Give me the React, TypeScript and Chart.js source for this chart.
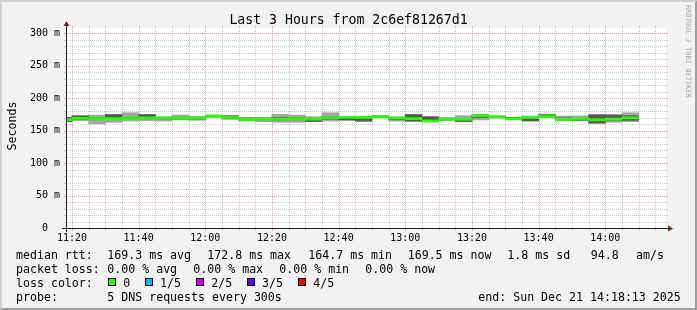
import React, { useEffect, useRef } from "react";
import { Chart, registerables } from "chart.js";

Chart.register(...registerables);

// ---------- data ----------
const chartTitle = "Last 3 Hours from 2c6ef81267d1";
const yAxisTitle = "Seconds";
const watermarkText = "RRDTOOL / TOBI OETIKER";
const rangeStart = "11:18:13";
const rangeEnd = "14:18:13";

const stepEnds = [
  "11:20", "11:25", "11:30", "11:35", "11:40", "11:45", "11:50", "11:55",
  "12:00", "12:05", "12:10", "12:15", "12:20", "12:25", "12:30", "12:35",
  "12:40", "12:45", "12:50", "12:55", "13:00", "13:05", "13:10", "13:15",
  "13:20", "13:25", "13:30", "13:35", "13:40", "13:45", "13:50", "13:55",
  "14:00", "14:05", "14:10",
];
const medianRtt = [
  166.7, 168.8, 168.3, 168.3, 168.3, 169.5, 169.5, 168.8, 169.2, 172.0,
  170.0, 167.2, 167.7, 167.5, 168.2, 167.5, 170.0, 170.3, 170.0, 171.3,
  169.2, 168.3, 164.7, 167.2, 167.3, 172.8, 171.0, 167.9, 170.0, 171.3,
  167.2, 167.8, 166.5, 167.5, 169.5,
];
const smokeOuterLow = [
  163.5, 165.0, 160.2, 162.6, 164.6, 165.2, 164.6, 166.2, 165.6, 170.5,
  167.0, 164.6, 163.6, 162.6, 162.6, 163.6, 164.6, 165.6, 164.0, 169.5,
  164.6, 163.6, 163.2, 165.6, 163.4, 166.2, 169.2, 166.6, 164.6, 169.7,
  165.0, 165.6, 160.8, 162.6, 163.6,
];
const smokeOuterHigh = [
  170.3, 172.8, 173.8, 174.9, 177.4, 174.9, 170.5, 173.8, 171.3, 173.8,
  172.8, 169.7, 170.0, 174.9, 173.8, 171.3, 177.4, 171.3, 171.0, 173.0,
  171.0, 175.0, 171.6, 169.7, 172.8, 174.9, 172.3, 170.3, 172.3, 175.4,
  172.3, 172.3, 174.9, 174.5, 177.4,
];
const smokeInnerLow = [
  163.5, 167.0, 166.8, 167.5, 166.8, 168.0, 167.8, 167.5, 167.5, 171.0,
  168.2, 166.2, 166.5, 166.0, 166.5, 163.8, 167.5, 166.2, 164.5, 170.3,
  166.5, 164.6, 164.2, 166.2, 163.8, 170.0, 169.8, 167.5, 164.8, 170.5,
  166.2, 165.6, 161.5, 165.6, 165.6,
];
const smokeInnerHigh = [
  170.3, 172.5, 169.8, 174.5, 170.0, 174.5, 170.3, 170.3, 170.5, 173.0,
  172.5, 169.5, 169.0, 170.0, 170.0, 168.5, 171.5, 170.5, 170.0, 172.5,
  170.0, 174.5, 171.0, 169.0, 168.5, 173.5, 172.0, 170.0, 169.5, 174.0,
  169.5, 168.5, 174.0, 173.8, 172.8,
];
const xTickLabels = ["11:20", "11:40", "12:00", "12:20", "12:40", "13:00", "13:20", "13:40", "14:00"];
const yTickValues = [0, 50, 100, 150, 200, 250, 300];
const yUnit = "m";

const rttLabel = "median rtt:";
const rttStats = ["169.3 ms avg", "172.8 ms max", "164.7 ms min", "169.5 ms now", "1.8 ms sd", "94.8", "am/s"];
const lossLabel = "packet loss:";
const lossStats = ["0.00 % avg", "0.00 % max", "0.00 % min", "0.00 % now"];
const lossColorLabel = "loss color:";
const lossNames = ["0", "1/5", "2/5", "3/5", "4/5"];
const lossColors = ["#26ff00", "#00b8ff", "#dd00ff", "#5e00ff", "#ff0000"];
const probeLabel = "probe:";
const probeText = "5 DNS requests every 300s";
const endText = "end: Sun Dec 21 14:18:13 2025";

// ---------- layout / style ----------
const W = 697;
const H = 310;
const FONT = '"DejaVu Sans Mono", monospace';
const STEP_MIN = 5;
const Y_MAX = 307.7;
const MEDIAN_HALF = 1.6;
const GRID = "rgba(143,143,143,0.45)";
const MGRID = "rgba(222,79,79,0.5)";
const AXIS = "#1f1f1f";
const ARROW = "#801f1f";

const toMin = (s: string) => {
  const p = s.split(":").map(Number);
  return p[0] * 60 + p[1] + (p[2] || 0) / 60;
};
const xMin = toMin(rangeStart);
const xMax = toMin(rangeEnd);
const stepCenters = stepEnds.map((s) => toMin(s) - STEP_MIN / 2);
const majorMap = new Map(xTickLabels.map((l) => [toMin(l), l]));

const rrdPlugin = {
  id: "rrdlook",
  beforeDraw(chart: any) {
    const { ctx, chartArea: a } = chart;
    ctx.save();
    ctx.fillStyle = "#f2f2f2";
    ctx.fillRect(0, 0, W, H);
    ctx.fillStyle = "#cfcfcf";
    ctx.beginPath();
    ctx.moveTo(0, H); ctx.lineTo(2, H - 2); ctx.lineTo(2, 2); ctx.lineTo(W - 2, 2);
    ctx.lineTo(W, 0); ctx.lineTo(0, 0); ctx.closePath(); ctx.fill();
    ctx.fillStyle = "#9e9e9e";
    ctx.beginPath();
    ctx.moveTo(2, H - 2); ctx.lineTo(W - 2, H - 2); ctx.lineTo(W - 2, 2);
    ctx.lineTo(W, 0); ctx.lineTo(W, H); ctx.lineTo(0, H); ctx.closePath(); ctx.fill();
    ctx.fillStyle = "#ffffff";
    ctx.fillRect(a.left, a.top, a.right - a.left, a.bottom - a.top);
    ctx.restore();
  },
  beforeDatasetsDraw(chart: any) {
    const { ctx, chartArea: a, scales } = chart;
    const xs = scales.x, ys = scales.y;
    const X0 = a.left, X1 = a.right, Y0 = a.bottom, Y1 = a.top;
    const line = (x1: number, y1: number, x2: number, y2: number) => {
      ctx.beginPath(); ctx.moveTo(x1, y1); ctx.lineTo(x2, y2); ctx.stroke();
    };
    ctx.save();
    ctx.lineWidth = 1;
    ys.ticks.forEach((t: any) => {
      const v = t.value;
      if (v <= 0) return;
      const py = Math.round(ys.getPixelForValue(v)) + 0.5;
      const major = yTickValues.includes(v);
      ctx.strokeStyle = major ? MGRID : GRID;
      ctx.setLineDash([]);
      line(X0 - 2, py, X0, py);
      line(X1, py, X1 + 2, py);
      ctx.setLineDash([1, 1]);
      line(X0, py, X1, py);
    });
    xs.ticks.forEach((t: any) => {
      const v = t.value;
      const px = Math.round(xs.getPixelForValue(v)) + 0.5;
      const major = majorMap.has(v);
      ctx.strokeStyle = major ? MGRID : GRID;
      ctx.setLineDash([]);
      line(px, Y1 - 2, px, Y1);
      line(px, Y0, px, Y0 + (major ? 3 : 2));
      ctx.setLineDash([1, 1]);
      line(px, Y0, px, Y1);
    });
    ctx.restore();
  },
  afterDatasetsDraw(chart: any) {
    const { ctx, chartArea: a } = chart;
    const X0 = a.left, X1 = a.right, Y0 = a.bottom, Y1 = a.top;
    ctx.save();
    ctx.setLineDash([]);
    ctx.lineWidth = 1;
    ctx.strokeStyle = AXIS;
    ctx.beginPath();
    ctx.moveTo(X0 - 4, Y0 + 0.5); ctx.lineTo(X1 + 4, Y0 + 0.5);
    ctx.moveTo(X0 + 0.5, Y0 + 4); ctx.lineTo(X0 + 0.5, Y1 - 4);
    ctx.stroke();
    ctx.fillStyle = ARROW;
    ctx.beginPath();
    ctx.moveTo(X1 + 2, Y0 + 0.5 - 3); ctx.lineTo(X1 + 2, Y0 + 0.5 + 3); ctx.lineTo(X1 + 7, Y0 + 0.5);
    ctx.closePath(); ctx.fill();
    ctx.beginPath();
    ctx.moveTo(X0 + 0.5 - 3, Y1 - 2); ctx.lineTo(X0 + 0.5 + 3, Y1 - 2); ctx.lineTo(X0 + 0.5, Y1 - 7);
    ctx.closePath(); ctx.fill();
    ctx.restore();
  },
  afterDraw(chart: any) {
    const { ctx } = chart;
    ctx.save();
    ctx.fillStyle = "#000";
    ctx.font = `13.2px ${FONT}`;
    ctx.textAlign = "center";
    ctx.textBaseline = "alphabetic";
    ctx.fillText(chartTitle, W / 2, 23.5);
    ctx.save();
    ctx.font = `11.6px ${FONT}`;
    ctx.translate(15.5, 126);
    ctx.rotate(-Math.PI / 2);
    ctx.textAlign = "center";
    ctx.fillText(yAxisTitle, 0, 0);
    ctx.restore();
    ctx.save();
    ctx.font = `7px ${FONT}`;
    ctx.fillStyle = "rgba(0,0,0,0.33)";
    ctx.translate(691, 5);
    ctx.rotate(Math.PI / 2);
    ctx.textAlign = "left";
    ctx.textBaseline = "top";
    ctx.fillText(watermarkText, 0, 0);
    ctx.restore();
    ctx.font = `11.6px ${FONT}`;
    ctx.textAlign = "left";
    ctx.textBaseline = "alphabetic";
    const rows = [259, 273, 287, 301];
    ctx.fillText(rttLabel, 16, rows[0]);
    const rttX = [107.3, 207.3, 308.3, 407.7, 507.3, 590.7, 636];
    rttStats.forEach((s, i) => ctx.fillText(s, rttX[i], rows[0]));
    ctx.fillText(lossLabel, 16, rows[1]);
    const lossX = [107.3, 193.3, 279.3, 365.3];
    lossStats.forEach((s, i) => ctx.fillText(s, lossX[i], rows[1]));
    ctx.fillText(lossColorLabel, 16, rows[2]);
    const boxX = [108, 145, 196, 247, 298];
    const nameX = [123.3, 160, 211.3, 262, 313.3];
    lossNames.forEach((n, i) => {
      ctx.fillStyle = "#000";
      ctx.fillRect(boxX[i], 278, 8, 8);
      ctx.fillStyle = lossColors[i];
      ctx.fillRect(boxX[i] + 1, 279, 6, 6);
      ctx.fillStyle = "#000";
      ctx.fillText(n, nameX[i], rows[2]);
    });
    ctx.fillText(probeLabel, 16, rows[3]);
    ctx.fillText(probeText, 107.3, rows[3]);
    ctx.fillText(endText, 478.3, rows[3]);
    ctx.restore();
  },
};

export default function App() {
  const ref = useRef<HTMLCanvasElement | null>(null);
  useEffect(() => {
    if (!ref.current) return;
    const common = {
      grouped: false,
      categoryPercentage: 1,
      barPercentage: 1,
      borderWidth: 0,
      clip: 0,
    };
    const band = (lo: number[], hi: number[]) =>
      stepCenters.map((x, i) => ({ x, y: [lo[i], hi[i]] }));
    const chart = new Chart(ref.current, {
      type: "bar",
      data: {
        datasets: [
          {
            ...common,
            label: "median rtt",
            data: stepCenters.map((x, i) => ({ x, y: [medianRtt[i] - MEDIAN_HALF, medianRtt[i] + MEDIAN_HALF] })),
            backgroundColor: lossColors[0],
            order: 0,
          },
          { ...common, label: "inner", data: band(smokeInnerLow, smokeInnerHigh), backgroundColor: "#585858", order: 1 },
          { ...common, label: "outer", data: band(smokeOuterLow, smokeOuterHigh), backgroundColor: "#a5a5a5", order: 2 },
        ] as any,
      },
      options: {
        animation: false,
        responsive: false,
        devicePixelRatio: 1,
        events: [],
        layout: { padding: { left: 0, top: 28, right: 31, bottom: 62 } },
        plugins: { legend: { display: false }, tooltip: { enabled: false }, title: { display: false } },
        scales: {
          x: {
            type: "linear",
            min: xMin,
            max: xMax,
            offset: false,
            grid: { display: false, drawTicks: false },
            border: { display: false },
            afterBuildTicks: (s: any) => {
              const t: any[] = [];
              for (let v = Math.ceil(xMin / STEP_MIN) * STEP_MIN; v <= xMax; v += STEP_MIN) t.push({ value: v });
              s.ticks = t;
            },
            afterFit: (s: any) => { s.height = 20; },
            ticks: {
              autoSkip: false,
              maxRotation: 0,
              minRotation: 0,
              padding: 4,
              color: "#000",
              font: { family: FONT, size: 10 },
              callback: (v: any) => majorMap.get(Number(v)) ?? "",
            },
          },
          y: {
            type: "linear",
            min: 0,
            max: Y_MAX,
            grid: { display: false, drawTicks: false },
            border: { display: false },
            afterBuildTicks: (s: any) => {
              const t: any[] = [];
              for (let v = 0; v <= 300; v += 10) t.push({ value: v });
              s.ticks = t;
            },
            afterFit: (s: any) => { s.width = 66; },
            ticks: {
              autoSkip: false,
              padding: 6,
              color: "#000",
              font: { family: FONT, size: 10 },
              callback: (v: any) => {
                const n = Number(v);
                if (!yTickValues.includes(n)) return "";
                return n === 0 ? "0  " : `${n} ${yUnit}`;
              },
            },
          },
        },
      } as any,
      plugins: [rrdPlugin],
    });
    return () => chart.destroy();
  }, []);
  return (
    <div style={{ position: "absolute", left: 0, top: 0, width: W, height: H }}>
      <canvas ref={ref} width={W} height={H} style={{ display: "block", width: W, height: H }} />
    </div>
  );
}
